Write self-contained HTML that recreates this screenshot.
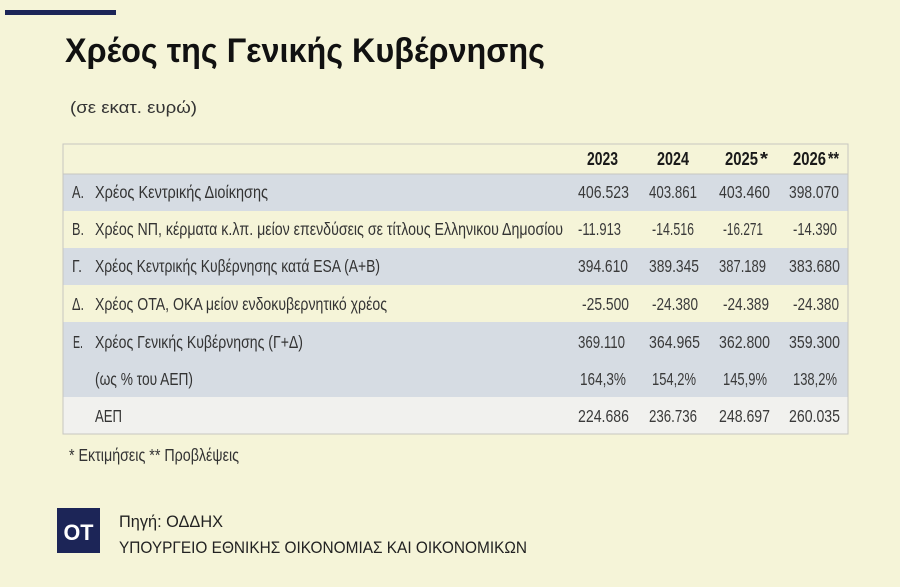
<!DOCTYPE html>
<html><head><meta charset="utf-8"><style>
html,body{margin:0;padding:0;background:#f5f4d8;}
svg{display:block;}
.t{font-family:"Liberation Sans","DejaVu Sans",sans-serif;}
.l{font-family:"Liberation Sans","DejaVu Sans",sans-serif;font-size:17.5px;fill:#333;}
.n{font-family:"Liberation Sans","DejaVu Sans",sans-serif;font-size:17.5px;fill:#3a3a3a;}
.h{font-family:"Liberation Sans","DejaVu Sans",sans-serif;font-size:18px;font-weight:bold;fill:#1a1a1a;}
</style></head><body>
<svg width="900" height="587" viewBox="0 0 900 587" xmlns="http://www.w3.org/2000/svg">
<rect x="0" y="0" width="900" height="587" fill="#f5f4d8"/>
<rect x="5" y="10" width="111" height="5" fill="#1c2557"/>
<text class="t" x="65" y="62" font-size="34" font-weight="bold" fill="#111" textLength="480" lengthAdjust="spacingAndGlyphs">Χρέος της Γενικής Κυβέρνησης</text>
<text class="t" x="70" y="113" font-size="17" fill="#333" textLength="127" lengthAdjust="spacingAndGlyphs">(σε εκατ. ευρώ)</text>

<!-- table -->
<rect x="63" y="144" width="785" height="290" fill="#f5f4d8" stroke="#c6c6c0" stroke-width="1"/>
<rect x="63.5" y="174" width="784" height="37" fill="#d6dce3"/>
<rect x="63.5" y="248" width="784" height="37" fill="#d6dce3"/>
<rect x="63.5" y="322" width="784" height="75" fill="#d6dce3"/>
<rect x="63.5" y="397" width="784" height="36.5" fill="#f1f1ee"/>
<line x1="63" y1="174" x2="848" y2="174" stroke="#c6c6c0" stroke-width="1"/>
<rect x="63" y="144" width="785" height="290" fill="none" stroke="#c6c6c0" stroke-width="1"/>

<text class="h" x="587" y="165" textLength="31" lengthAdjust="spacingAndGlyphs">2023</text>
<text class="h" x="657" y="165" textLength="32" lengthAdjust="spacingAndGlyphs">2024</text>
<text class="h" x="725" y="165" textLength="33" lengthAdjust="spacingAndGlyphs">2025</text>
<text class="h" x="760" y="165" textLength="8" lengthAdjust="spacingAndGlyphs">*</text>
<text class="h" x="793" y="165" textLength="33" lengthAdjust="spacingAndGlyphs">2026</text>
<text class="h" x="828" y="165" textLength="11" lengthAdjust="spacingAndGlyphs">**</text>

<text class="l" x="72" y="198" textLength="12" lengthAdjust="spacingAndGlyphs">A.</text>
<text class="l" x="95" y="198" textLength="173" lengthAdjust="spacingAndGlyphs">Χρέος Κεντρικής Διοίκησης</text>
<text class="l" x="72" y="235" textLength="12" lengthAdjust="spacingAndGlyphs">B.</text>
<text class="l" x="95" y="235" textLength="468" lengthAdjust="spacingAndGlyphs">Χρέος ΝΠ, κέρματα κ.λπ. μείον επενδύσεις σε τίτλους Ελληνικου Δημοσίου</text>
<text class="l" x="72" y="272" textLength="10" lengthAdjust="spacingAndGlyphs">Γ.</text>
<text class="l" x="95" y="272" textLength="285" lengthAdjust="spacingAndGlyphs">Χρέος Κεντρικής Κυβέρνησης κατά ESA (A+B)</text>
<text class="l" x="72" y="310" textLength="12" lengthAdjust="spacingAndGlyphs">Δ.</text>
<text class="l" x="95" y="310" textLength="292" lengthAdjust="spacingAndGlyphs">Χρέος ΟΤΑ, ΟΚΑ μείον ενδοκυβερνητικό χρέος</text>
<text class="l" x="73" y="348" textLength="10" lengthAdjust="spacingAndGlyphs">Ε.</text>
<text class="l" x="95" y="348" textLength="208" lengthAdjust="spacingAndGlyphs">Χρέος Γενικής Κυβέρνησης (Γ+Δ)</text>
<text class="l" x="95" y="385" textLength="98" lengthAdjust="spacingAndGlyphs">(ως % του ΑΕΠ)</text>
<text class="l" x="95" y="422" textLength="27" lengthAdjust="spacingAndGlyphs">ΑΕΠ</text>

<text class="n" x="578" y="198" textLength="51" lengthAdjust="spacingAndGlyphs">406.523</text>
<text class="n" x="649" y="198" textLength="48" lengthAdjust="spacingAndGlyphs">403.861</text>
<text class="n" x="719" y="198" textLength="51" lengthAdjust="spacingAndGlyphs">403.460</text>
<text class="n" x="789" y="198" textLength="50" lengthAdjust="spacingAndGlyphs">398.070</text>

<text class="n" x="578" y="235" textLength="43" lengthAdjust="spacingAndGlyphs">-11.913</text>
<text class="n" x="652" y="235" textLength="42" lengthAdjust="spacingAndGlyphs">-14.516</text>
<text class="n" x="723" y="235" textLength="40" lengthAdjust="spacingAndGlyphs">-16.271</text>
<text class="n" x="793" y="235" textLength="44" lengthAdjust="spacingAndGlyphs">-14.390</text>

<text class="n" x="578" y="272" textLength="50" lengthAdjust="spacingAndGlyphs">394.610</text>
<text class="n" x="649" y="272" textLength="50" lengthAdjust="spacingAndGlyphs">389.345</text>
<text class="n" x="719" y="272" textLength="47" lengthAdjust="spacingAndGlyphs">387.189</text>
<text class="n" x="789" y="272" textLength="51" lengthAdjust="spacingAndGlyphs">383.680</text>

<text class="n" x="582" y="310" textLength="47" lengthAdjust="spacingAndGlyphs">-25.500</text>
<text class="n" x="652" y="310" textLength="46" lengthAdjust="spacingAndGlyphs">-24.380</text>
<text class="n" x="723" y="310" textLength="46" lengthAdjust="spacingAndGlyphs">-24.389</text>
<text class="n" x="793" y="310" textLength="46" lengthAdjust="spacingAndGlyphs">-24.380</text>

<text class="n" x="578" y="348" textLength="47" lengthAdjust="spacingAndGlyphs">369.110</text>
<text class="n" x="649" y="348" textLength="51" lengthAdjust="spacingAndGlyphs">364.965</text>
<text class="n" x="719" y="348" textLength="51" lengthAdjust="spacingAndGlyphs">362.800</text>
<text class="n" x="789" y="348" textLength="51" lengthAdjust="spacingAndGlyphs">359.300</text>

<text class="n" x="580" y="385" textLength="46" lengthAdjust="spacingAndGlyphs">164,3%</text>
<text class="n" x="652" y="385" textLength="44" lengthAdjust="spacingAndGlyphs">154,2%</text>
<text class="n" x="723" y="385" textLength="44" lengthAdjust="spacingAndGlyphs">145,9%</text>
<text class="n" x="793" y="385" textLength="44" lengthAdjust="spacingAndGlyphs">138,2%</text>

<text class="n" x="578" y="422" textLength="51" lengthAdjust="spacingAndGlyphs">224.686</text>
<text class="n" x="649" y="422" textLength="48" lengthAdjust="spacingAndGlyphs">236.736</text>
<text class="n" x="719" y="422" textLength="51" lengthAdjust="spacingAndGlyphs">248.697</text>
<text class="n" x="789" y="422" textLength="51" lengthAdjust="spacingAndGlyphs">260.035</text>

<text class="l" x="69" y="461" textLength="170" lengthAdjust="spacingAndGlyphs" fill="#222">* Εκτιμήσεις ** Προβλέψεις</text>

<rect x="57" y="508" width="43" height="45" fill="#1c2557"/>
<text class="t" x="78.5" y="540" font-size="22" font-weight="bold" fill="#ffffff" text-anchor="middle" textLength="30" lengthAdjust="spacingAndGlyphs">OT</text>
<text class="t" x="119" y="527" font-size="16.5" fill="#222" textLength="104" lengthAdjust="spacingAndGlyphs">Πηγή: ΟΔΔΗΧ</text>
<text class="t" x="119" y="553" font-size="16.5" fill="#222" textLength="408" lengthAdjust="spacingAndGlyphs">ΥΠΟΥΡΓΕΙΟ ΕΘΝΙΚΗΣ ΟΙΚΟΝΟΜΙΑΣ ΚΑΙ ΟΙΚΟΝΟΜΙΚΩΝ</text>
</svg>
</body></html>
